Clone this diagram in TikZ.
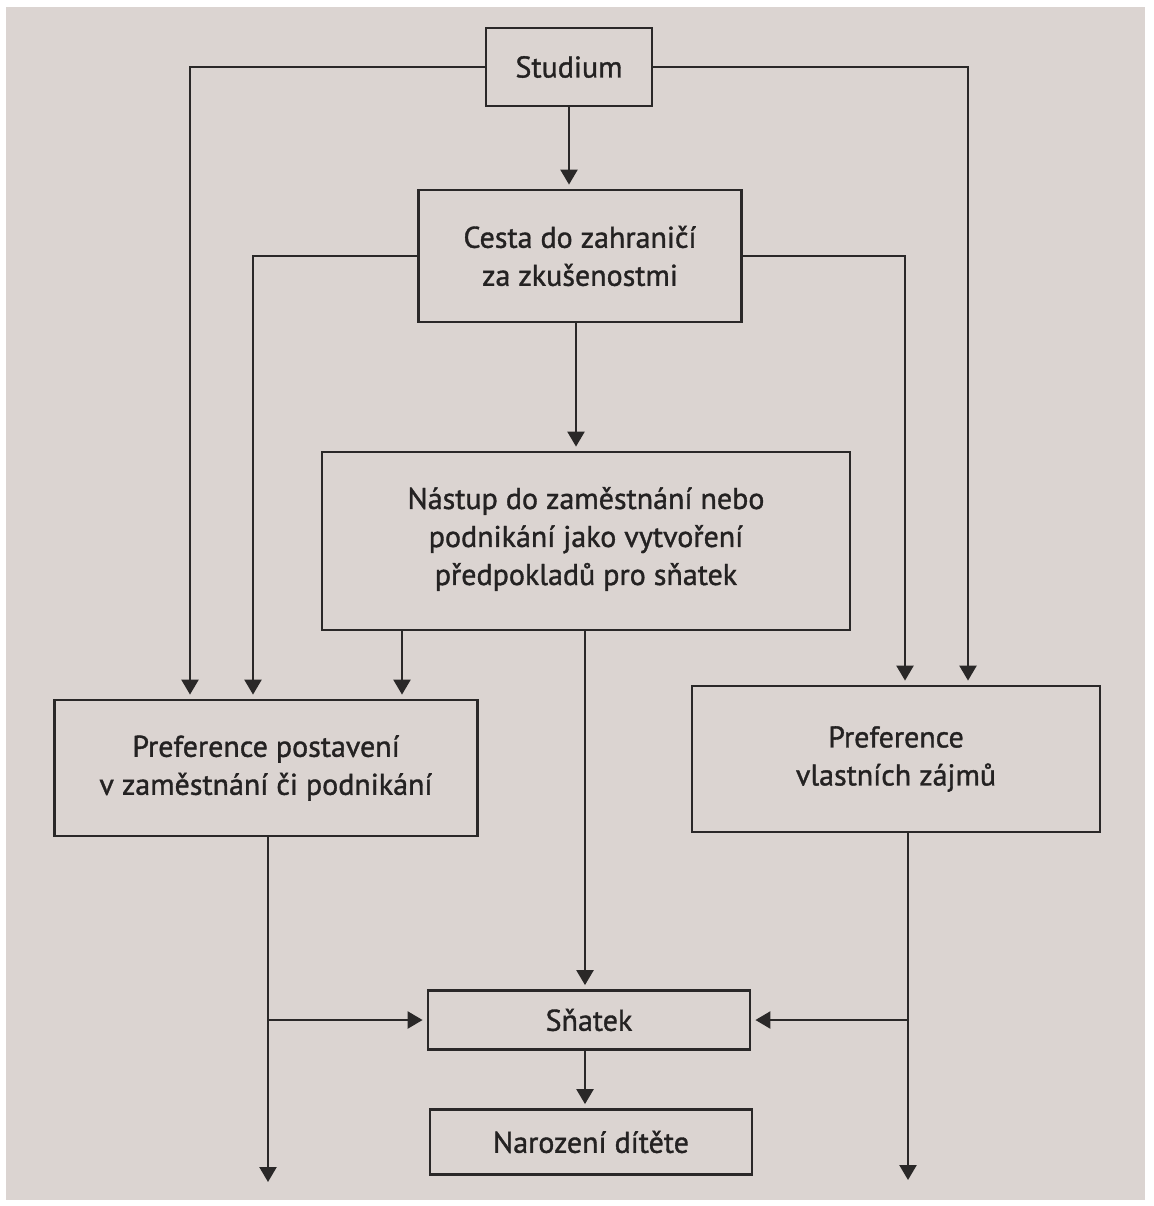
\documentclass[tikz,border=0pt]{standalone}
\usepackage{fontspec}
\setmainfont{PT Sans}
\newfontfamily\diagfont{PT Sans}[FakeBold=1.2]
\usetikzlibrary{arrows.meta}
\definecolor{bgc}{RGB}{219,212,209}
\definecolor{linec}{RGB}{42,40,40}
\definecolor{textc}{RGB}{36,34,34}
\begin{document}
\begin{tikzpicture}[x=1pt,y=-1pt,
  box/.style={draw=linec, line width=2.8pt, text=textc, align=center, inner sep=0pt,
    font=\diagfont\fontsize{30}{38}\selectfont},
  arr/.style={draw=linec, line width=2.4pt, shorten >=4pt, -{Triangle[length=15pt,width=17pt]}}]
\fill[white] (0,0) rectangle (1153,1206);
\fill[bgc] (6,7) rectangle (1145,1200);
\useasboundingbox (0,0) rectangle (1153,1206);

\node[box, minimum width=166pt, minimum height=78pt] (stud) at (569,67) {Studium};
\node[box, minimum width=323pt, minimum height=132pt] (cesta) at (580,256) {Cesta do zahraničí\\za zkušenostmi};
\node[box, minimum width=528pt, minimum height=178pt] (nast) at (586,541) {Nástup do zaměstnání nebo\\podnikání jako vytvoření\\předpokladů pro sňatek\\[-28pt]};
\node[box, minimum width=423pt, minimum height=136pt] (ppost) at (266,768) {Preference postavení\\v zaměstnání či podnikání};
\node[box, minimum width=408pt, minimum height=146pt] (pvl) at (896,759) {Preference\\vlastních zájmů};
\node[box, minimum width=322pt, minimum height=59pt] (snat) at (589,1020) {Sňatek};
\node[box, minimum width=322pt, minimum height=65pt] (nar) at (591,1142) {Narození dítěte};

\coordinate (cS) at (569,0);
\coordinate (cT) at (576,0);
\coordinate (cA) at (190,0);
\coordinate (cB) at (253,0);
\coordinate (cC) at (402,0);
\coordinate (cD) at (905,0);
\coordinate (cE) at (968,0);
\coordinate (cL) at (268,0);
\coordinate (cR) at (908,0);
\coordinate (cM) at (585,0);
\coordinate (endL) at (268,1186);
\coordinate (endR) at (908,1184);

\draw[arr] (stud.south -| cS) -- (cesta.north -| cS);
\draw[arr] (cesta.south -| cT) -- (nast.north -| cT);
\draw[arr] (stud.west) -| (ppost.north -| cA);
\draw[arr] (stud.east) -| (pvl.north -| cE);
\draw[arr] (cesta.west) -| (ppost.north -| cB);
\draw[arr] (cesta.east) -| (pvl.north -| cD);
\draw[arr] (nast.south -| cC) -- (ppost.north -| cC);
\draw[arr] (nast.south -| cM) -- (snat.north -| cM);
\draw[arr] (ppost.south -| cL) -- (endL);
\draw[arr] (snat.west -| cL) -- (snat.west);
\draw[arr] (pvl.south -| cR) -- (endR);
\draw[arr] (snat.east -| cR) -- (snat.east);
\draw[arr] (snat.south -| cM) -- (nar.north -| cM);
\end{tikzpicture}
\end{document}
